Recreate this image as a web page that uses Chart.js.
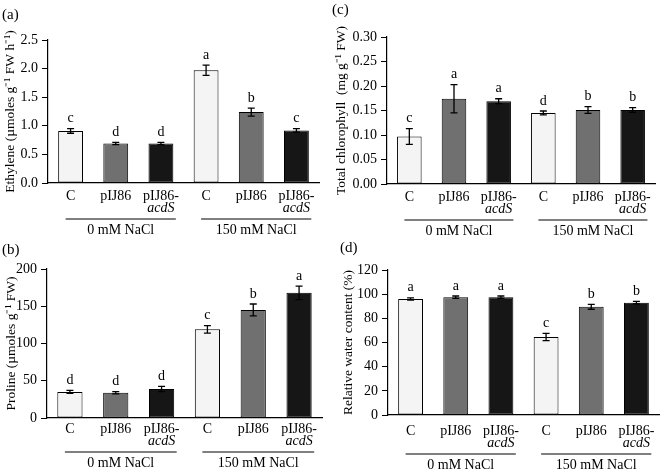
<!DOCTYPE html>
<html>
<head>
<meta charset="utf-8">
<script src="https://cdn.jsdelivr.net/npm/chart.js@4.4.1/dist/chart.umd.min.js"></script>
<style>
  body { margin: 0; background: #fff; }
  #wrap { position: relative; width: 660px; height: 470px; background: #fff; }
  .panel { position: absolute; width: 330px; }
</style>
</head>
<body>
<div id="wrap">
  <div class="panel" style="left:0;top:0;height:245px"><canvas id="chartA" width="330" height="245"></canvas></div>
  <div class="panel" style="left:330px;top:0;height:245px"><canvas id="chartC" width="330" height="245"></canvas></div>
  <div class="panel" style="left:0;top:235px;height:235px"><canvas id="chartB" width="330" height="235"></canvas></div>
  <div class="panel" style="left:330px;top:235px;height:235px"><canvas id="chartD" width="330" height="235"></canvas></div>
</div>
<script>
const categories = ["C", "pIJ86", "pIJ86-acdS", "C", "pIJ86", "pIJ86-acdS"];
const groups = ["0 mM NaCl", "150 mM NaCl"];
const barColors = ["#f4f4f4", "#707070", "#161616", "#f4f4f4", "#707070", "#161616"];

const ethylene = [0.91, 0.69, 0.69, 1.97, 1.24, 0.92];
const ethyleneErr = [0.04, 0.02, 0.02, 0.09, 0.07, 0.03];
const ethyleneLetters = ["c", "d", "d", "a", "b", "c"];

const proline = [35, 34, 39, 119, 145, 168];
const prolineErr = [2, 1.5, 3.5, 5, 8, 9];
const prolineLetters = ["d", "d", "d", "c", "b", "a"];

const chlorophyll = [0.097, 0.174, 0.169, 0.145, 0.151, 0.151];
const chlorophyllErr = [0.016, 0.029, 0.005, 0.004, 0.007, 0.005];
const chlorophyllLetters = ["c", "a", "a", "d", "b", "b"];

const water = [96, 97.5, 97.5, 64.5, 89.5, 93];
const waterErr = [1, 1, 1, 3, 2, 1];
const waterLetters = ["a", "a", "a", "c", "b", "b"];

const FONT = '"Liberation Serif", "Times New Roman", serif';
Chart.defaults.font.family = FONT;
Chart.defaults.color = "#000";

const extras = {};

const extrasPlugin = {
  id: "extras",
  afterDraw(chart) {
    const p = extras[chart.canvas.id];
    const ctx = chart.ctx;
    const xs = chart.scales.x;
    const ys = chart.scales.y;
    const bottom = chart.chartArea.bottom;
    const w = xs.getPixelForValue(1) - xs.getPixelForValue(0);
    ctx.save();
    ctx.strokeStyle = "#000";
    ctx.fillStyle = "#000";

    // error bars and letters
    p.values.forEach((v, i) => {
      const x = xs.getPixelForValue(i);
      const top = ys.getPixelForValue(v + p.errors[i]);
      const low = ys.getPixelForValue(v - p.errors[i]);
      ctx.lineWidth = 1.3;
      ctx.beginPath();
      ctx.moveTo(x, top); ctx.lineTo(x, low);
      ctx.moveTo(x - 3.5, top); ctx.lineTo(x + 3.5, top);
      ctx.moveTo(x - 3.5, low); ctx.lineTo(x + 3.5, low);
      ctx.stroke();
      ctx.font = "14px " + FONT;
      ctx.textAlign = "center";
      ctx.textBaseline = "bottom";
      ctx.fillText(p.letters[i], x, top - 3);
    });

    // category labels
    ctx.textAlign = "center";
    ctx.textBaseline = "middle";
    categories.forEach((c, i) => {
      const x = xs.getPixelForValue(i);
      if (c.indexOf("-") > 0) {
        const parts = c.split("-");
        ctx.font = "14px " + FONT;
        ctx.fillText(parts[0] + "-", x, bottom + 13 + p.shift);
        ctx.font = "italic 14px " + FONT;
        ctx.fillText(parts[1], x, bottom + 25 + p.shift);
      } else {
        ctx.font = "14px " + FONT;
        ctx.fillText(c, x, bottom + 13 + p.shift);
      }
    });

    // group lines and labels
    groups.forEach((g, k) => {
      const x0 = xs.getPixelForValue(k * 3) - 0.11 * w;
      const x1 = xs.getPixelForValue(k * 3 + 2) + 0.33 * w;
      const y = bottom + 36 + p.shift;
      ctx.lineWidth = 1;
      ctx.beginPath();
      ctx.moveTo(x0, y); ctx.lineTo(x1, y);
      ctx.stroke();
      ctx.font = "14px " + FONT;
      ctx.fillText(g, (x0 + x1) / 2, bottom + 47 + p.shift);
    });

    // panel tag
    ctx.font = "15px " + FONT;
    ctx.textAlign = "left";
    ctx.fillText(p.tag, p.tagX, p.tagY);
    ctx.restore();
  }
};

function makeChart(id, cfg) {
  extras[id] = cfg;
  new Chart(document.getElementById(id), {
    type: "bar",
    data: {
      labels: categories,
      datasets: [{
        data: cfg.values,
        backgroundColor: barColors,
        borderColor: "#000",
        borderWidth: 1,
        borderSkipped: false,
        barPercentage: 0.55,
        categoryPercentage: 1.0
      }]
    },
    options: {
      responsive: false,
      animation: false,
      layout: { padding: { left: 0, top: cfg.pad[0], right: cfg.pad[1], bottom: cfg.pad[2] } },
      plugins: { legend: { display: false }, tooltip: { enabled: false } },
      scales: {
        x: {
          ticks: { display: false },
          grid: { display: false, drawTicks: false },
          border: { color: "#000", width: 1.2 },
          afterFit: (s) => { s.height = 0; }
        },
        y: {
          min: cfg.min,
          max: cfg.max,
          ticks: {
            stepSize: cfg.step,
            padding: 4,
            font: { size: 14 },
            color: "#000",
            callback: (v) => v.toFixed(cfg.decimals)
          },
          grid: { drawOnChartArea: false, drawTicks: true, tickLength: 6, color: "#000" },
          border: { color: "#000", width: 1.2 },
          title: {
            display: true,
            text: cfg.title,
            font: { size: 13.5 },
            color: "#000",
            padding: { top: cfg.titlePad, bottom: 0 }
          },
          afterFit: (s) => { s.width = cfg.axisWidth; }
        }
      }
    },
    plugins: [extrasPlugin]
  });
}

makeChart("chartA", {
  values: ethylene, errors: ethyleneErr, letters: ethyleneLetters,
  title: "Ethylene (µmoles g⁻¹ FW h⁻¹)", min: 0, max: 2.5, step: 0.5, decimals: 1,
  axisWidth: 48, pad: [40, 11, 62], titlePad: 2, shift: 0, tag: "(a)", tagX: 2, tagY: 15
});
makeChart("chartC", {
  values: chlorophyll, errors: chlorophyllErr, letters: chlorophyllLetters,
  title: "Total chlorophyll  (mg g⁻¹ FW)", min: 0, max: 0.3, step: 0.05, decimals: 2,
  axisWidth: 57, pad: [37, 5, 61], titlePad: 3, shift: 0, tag: "(c)", tagX: 2, tagY: 10
});
makeChart("chartB", {
  values: proline, errors: prolineErr, letters: prolineLetters,
  title: "Proline (µmoles g⁻¹ FW)", min: 0, max: 200, step: 50, decimals: 0,
  axisWidth: 47, pad: [34, 8, 52], titlePad: 3, shift: -2, tag: "(b)", tagX: 2, tagY: 15
});
makeChart("chartD", {
  values: water, errors: waterErr, letters: waterLetters,
  title: "Relative water content (%)", min: 0, max: 120, step: 20, decimals: 0,
  axisWidth: 58, pad: [35, 1, 55], titlePad: 10, shift: 3, tag: "(d)", tagX: 10, tagY: 13
});
</script>
</body>
</html>
